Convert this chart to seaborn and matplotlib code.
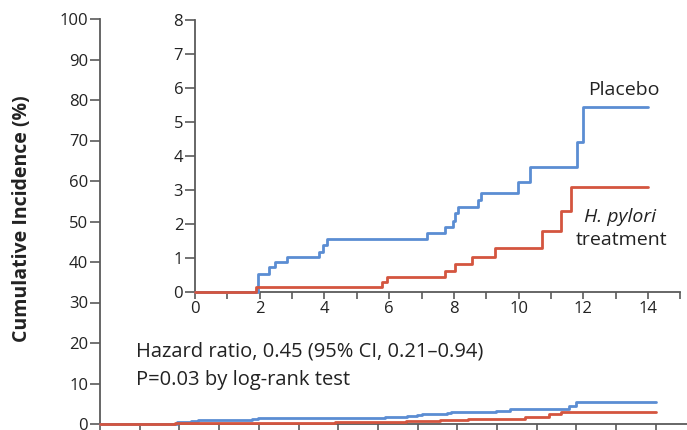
import pandas as pd
import seaborn as sns
import matplotlib.pyplot as plt

# step points (years, cumulative incidence %)
placebo_years = [0, 1.95, 2.30, 2.48, 2.84, 3.82, 3.97, 4.08, 7.17, 7.74, 7.98, 8.05,
                 8.12, 8.74, 8.84, 9.98, 10.34, 11.82, 12.0, 14.0]
placebo_pct = [0, 0.53, 0.74, 0.89, 1.04, 1.19, 1.38, 1.55, 1.73, 1.90, 2.10, 2.31,
               2.49, 2.71, 2.92, 3.24, 3.69, 4.42, 5.45, 5.45]
treat_years = [0, 1.90, 5.78, 5.93, 7.72, 8.05, 8.57, 9.26, 10.71, 11.30, 11.61, 14.0]
treat_pct = [0, 0.14, 0.30, 0.45, 0.63, 0.82, 1.04, 1.28, 1.80, 2.39, 3.08, 3.08]

main_yticks = list(range(0, 101, 10))
inset_yticks = list(range(0, 9))
inset_xlabels = list(range(0, 15, 2))

df = pd.concat([
    pd.DataFrame({'years': placebo_years, 'pct': placebo_pct, 'group': 'Placebo'}),
    pd.DataFrame({'years': treat_years, 'pct': treat_pct, 'group': 'H. pylori treatment'}),
])
palette = {'Placebo': '#5b8dd3', 'H. pylori treatment': '#d4553f'}

sns.set_style('ticks')
plt.rcParams['font.family'] = ['Open Sans', 'DejaVu Sans']
txt = '#222222'
spine = '#5a5a5a'

W, H = 687, 430
fig = plt.figure(figsize=(W / 100, H / 100), dpi=100)


def style(ax, size, ticklen):
    sns.despine(ax=ax)
    for s in ['left', 'bottom']:
        ax.spines[s].set_color(spine)
        ax.spines[s].set_linewidth(1.3)
    ax.tick_params(axis='both', which='both', direction='out', color=spine, width=1.2,
                   length=ticklen, labelsize=size, labelcolor=txt, pad=1.5)
    ax.set_xlabel('')
    ax.set_ylabel('')
    ax.set_facecolor('none')
    for ln in ax.lines:
        ln.set_clip_on(False)
        ln.set_zorder(3)


# main axes 0-100 %
ax = fig.add_axes([100 / W, 6 / H, 15 * 39.7 / W, 405 / H])
sns.lineplot(data=df, x='years', y='pct', hue='group', palette=palette, estimator=None,
             drawstyle='steps-post', linewidth=2, legend=False, ax=ax)
ax.set_xlim(0, 15)
ax.set_ylim(0, 100)
ax.set_yticks(main_yticks)
ax.set_xticks(range(0, 16))
style(ax, 12, 7)
ax.tick_params(axis='x', labelbottom=False, length=5)
ax.text(0.91, 18.0, 'Hazard ratio, 0.45 (95% CI, 0.21\u20130.94)', fontsize=14.5, color=txt,
        ha='left', va='center')
ax.text(0.91, 10.9, 'P=0.03 by log-rank test', fontsize=14.5, color=txt,
        ha='left', va='center')

# inset 0-8 %
ax2 = fig.add_axes([195 / W, 138 / H, 15 * 32.36 / W, 272 / H])
sns.lineplot(data=df, x='years', y='pct', hue='group', palette=palette, estimator=None,
             drawstyle='steps-post', linewidth=2, legend=False, ax=ax2)
ax2.set_xlim(0, 15)
ax2.set_ylim(0, 8)
ax2.set_yticks(inset_yticks)
ax2.set_xticks(inset_xlabels)
ax2.set_xticks(range(1, 16, 2), minor=True)
style(ax2, 12, 7)
ax2.tick_params(axis='x', which='both', length=5)
ax2.text(13.26, 5.94, 'Placebo', fontsize=14, color=txt, ha='center', va='center')
ax2.text(13.13, 2.21, 'H. pylori', fontsize=14, color=txt, ha='center', va='center',
         style='italic')
ax2.text(13.17, 1.53, 'treatment', fontsize=14, color=txt, ha='center', va='center')

fig.text(22 / W, 1 - 219 / H, 'Cumulative Incidence (%)', rotation=90, fontsize=14,
         fontweight='bold', color=txt, ha='center', va='center')

fig.savefig('out.png', dpi=100)
